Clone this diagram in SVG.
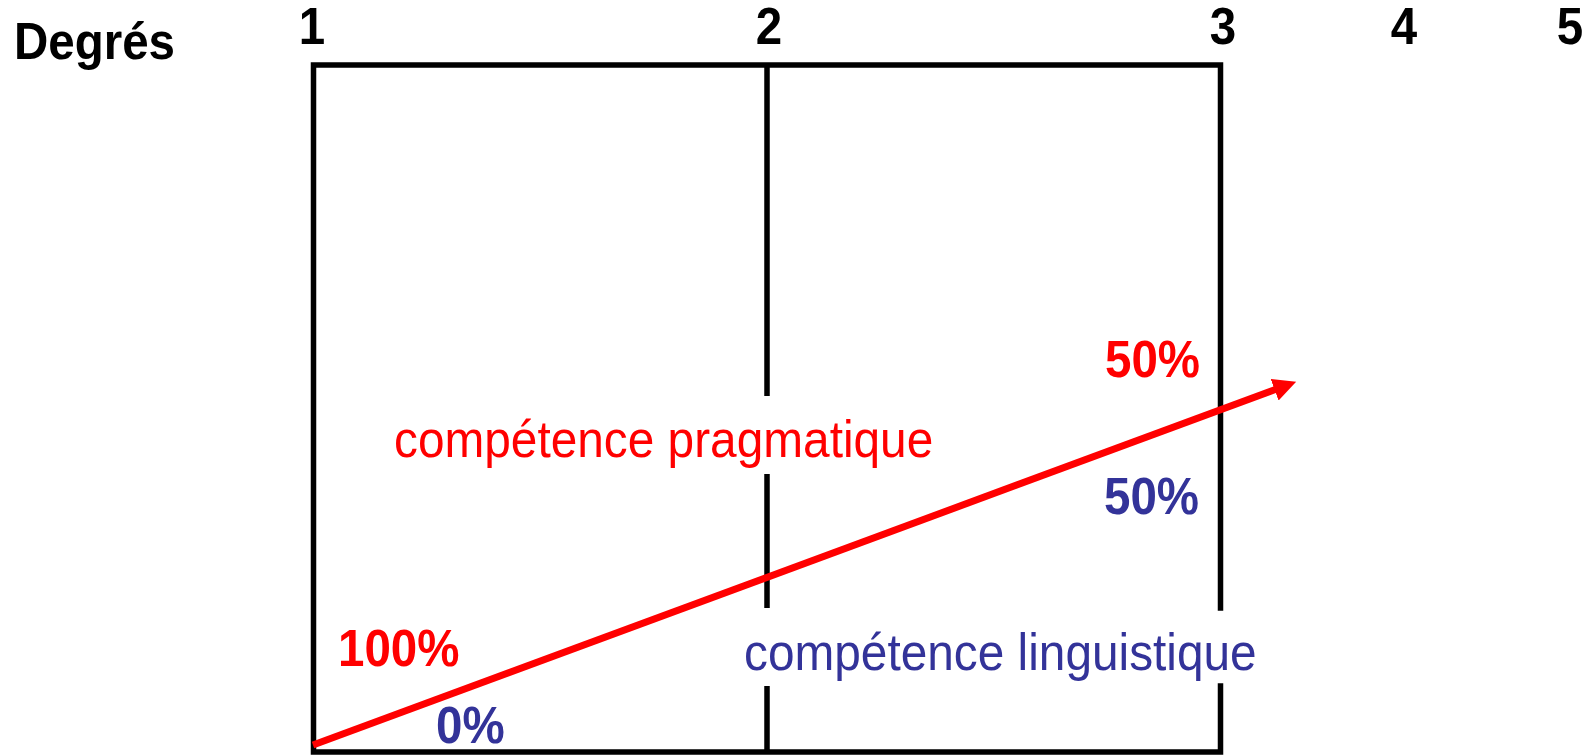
<svg xmlns="http://www.w3.org/2000/svg" width="1596" height="755" viewBox="0 0 1596 755">
<style>
.b{font-family:"Liberation Sans",Arial,sans-serif;font-weight:bold;font-size:47.5px;}
.r{font-family:"Liberation Sans",Arial,sans-serif;font-size:47.8px;}
.blk{fill:#000;}
.red{fill:#FF0000;}
.blu{fill:#333399;}
.ln{stroke:#000;stroke-width:5.5;fill:none;stroke-linecap:square;}
</style>
<defs>
<marker id="ah" markerUnits="userSpaceOnUse" markerWidth="24" markerHeight="24" refX="1.5" refY="11.5" orient="auto">
<path d="M0,0 L23,11.5 L0,23 z" fill="#FF0000"/>
</marker>
</defs>
<rect width="1596" height="755" fill="#fff"/>
<g id="frame">
<path class="ln" d="M313.5,752 L313.5,65 L1220.5,65 L1220.5,608 M1220.5,686 L1220.5,752 L313.5,752"/>
<path class="ln" d="M767,65 L767,396 M767,474 L767,608 M767,686 L767,752" style="stroke-linecap:butt"/>
</g>
<g id="axis-labels">
<text class="b blk" transform="matrix(1,0,0,1.1,14,59)">Degrés</text>
<text class="b blk" transform="matrix(1,0,0,1.1,312,44)" text-anchor="middle">1</text>
<text class="b blk" transform="matrix(1,0,0,1.1,769,44)" text-anchor="middle">2</text>
<text class="b blk" transform="matrix(1,0,0,1.1,1223,44)" text-anchor="middle">3</text>
<text class="b blk" transform="matrix(1,0,0,1.1,1404,44)" text-anchor="middle">4</text>
<text class="b blk" transform="matrix(1,0,0,1.1,1570,44)" text-anchor="middle">5</text>
</g>
<g id="pragmatique">
<text class="r red" transform="matrix(1,0,0,1.08,394,457)">compétence pragmatique</text>
</g>
<g id="linguistique">
<text class="r blu" transform="matrix(1,0,0,1.08,744,670)">compétence linguistique</text>
</g>
<g id="pct-start">
<text class="b red" transform="matrix(1,0,0,1.1,338,666)">100%</text>
<text class="b blu" transform="matrix(1,0,0,1.1,436,743)">0%</text>
</g>
<g id="pct-end">
<text class="b red" transform="matrix(1,0,0,1.1,1105,377)">50%</text>
<text class="b blu" transform="matrix(1,0,0,1.1,1104,514)">50%</text>
</g>
<g id="connectors">
<line x1="313" y1="745" x2="1276" y2="389.3" stroke="#FF0000" stroke-width="7" marker-end="url(#ah)"/>
</g>
</svg>
